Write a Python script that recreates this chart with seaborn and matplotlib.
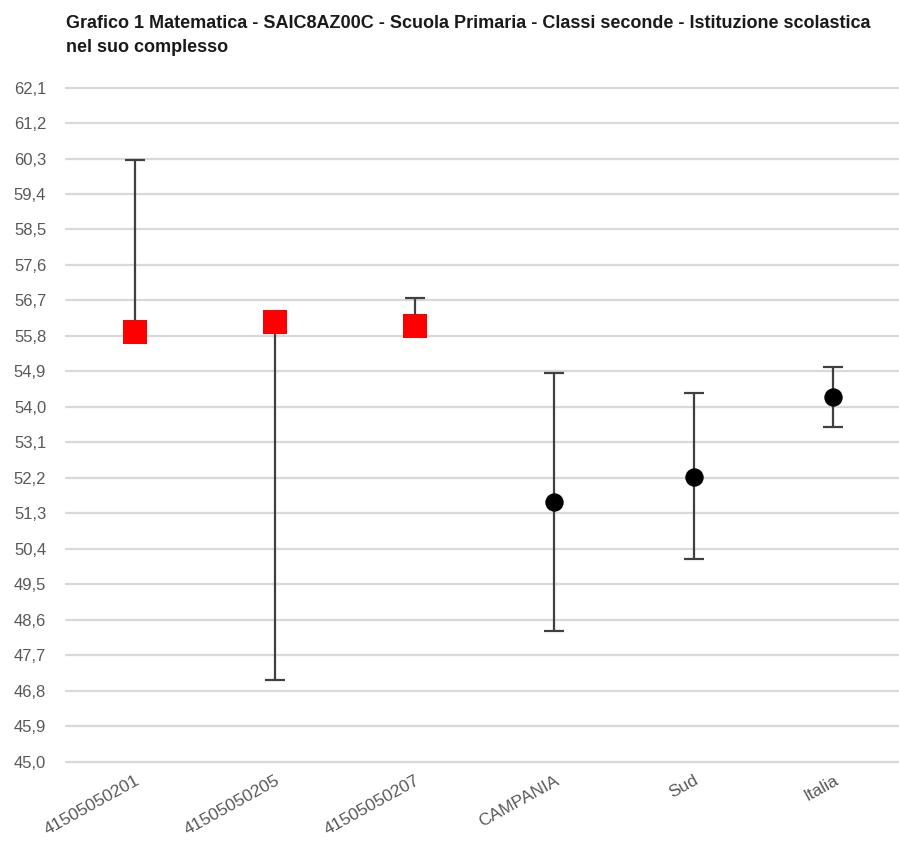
import matplotlib
matplotlib.use("Agg")
import matplotlib.pyplot as plt
import seaborn as sns
import pandas as pd
import numpy as np

categories = ["41505050201", "41505050205", "41505050207", "CAMPANIA", "Sud", "Italia"]
means = [55.90, 56.15, 56.05, 51.59, 52.22, 54.24]
upper = [60.26, 56.15, 56.75, 54.86, 54.34, 55.01]
lower = [55.90, 47.07, 56.05, 48.31, 50.15, 53.48]
group = ["scuola", "scuola", "scuola", "rif", "rif", "rif"]
yticks = [45.0, 45.9, 46.8, 47.7, 48.6, 49.5, 50.4, 51.3, 52.2, 53.1, 54.0,
          54.9, 55.8, 56.7, 57.6, 58.5, 59.4, 60.3, 61.2, 62.1]
title = ("Grafico 1 Matematica - SAIC8AZ00C - Scuola Primaria - Classi seconde - Istituzione scolastica\n"
         "nel suo complesso")

df = pd.DataFrame({"cat": categories, "mean": means, "up": upper, "lo": lower, "group": group})
df["x"] = np.arange(len(df))

sns.set_style("white")
plt.rcParams["font.family"] = ["Liberation Sans", "DejaVu Sans"]

fig = plt.figure(figsize=(8.99, 8.5), dpi=100)
ax = fig.add_axes([0.073, 0.104, 0.927, 0.793])

for y in yticks:
    ax.axhline(y, color="#d9d9d9", lw=1.6, zorder=0, clip_on=False)

yerr = np.vstack([df["mean"] - df["lo"], df["up"] - df["mean"]])
ax.errorbar(df["x"], df["mean"], yerr=yerr, fmt="none", ecolor="#404040",
            elinewidth=1.6, capsize=7.5, capthick=1.6, zorder=2)

sns.scatterplot(data=df[df["group"] == "scuola"], x="x", y="mean", marker="s",
                color="#ff0000", s=290, linewidth=0, ax=ax, zorder=3, legend=False)
sns.scatterplot(data=df[df["group"] == "rif"], x="x", y="mean", marker="o",
                color="#000000", s=175, linewidth=0, ax=ax, zorder=3, legend=False)

ax.set_xlim(-0.5, 5.47)
ax.set_ylim(45.0, 62.1)
ax.set_yticks(yticks)
ax.set_yticklabels([f"{v:.1f}".replace(".", ",") for v in yticks],
                   fontsize=12, color="#595959")
ax.set_xticks(df["x"])
ax.set_xticklabels(categories, rotation=29, ha="right", rotation_mode="anchor",
                   fontsize=12.5, color="#595959")
ax.tick_params(axis="y", length=0, pad=14)
ax.tick_params(axis="x", length=0, pad=8)
ax.set_xlabel("")
ax.set_ylabel("")
for s in ax.spines.values():
    s.set_visible(False)
ax.grid(False)

fig.text(0.073, 0.982, title, ha="left", va="top", fontsize=13,
         fontweight="bold", color="#1a1a1a", linespacing=1.5)

fig.savefig("out.png", dpi=100)
